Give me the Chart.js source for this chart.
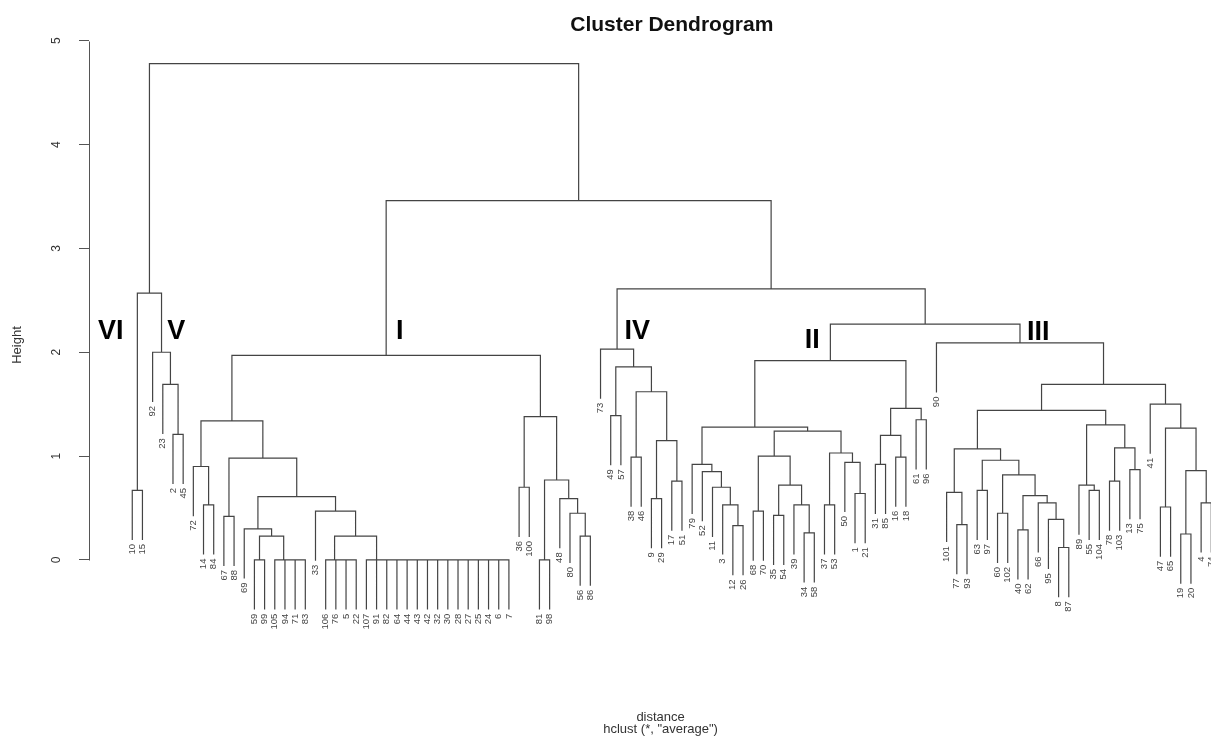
<!DOCTYPE html>
<html>
<head>
<meta charset="utf-8">
<script src="https://cdn.jsdelivr.net/npm/chart.js@4.4.0/dist/chart.umd.min.js"></script>
<style>
  html, body { margin: 0; padding: 0; background: #fff; }
  canvas { display: block; }
</style>
</head>
<body>
<canvas id="dendro" width="1211" height="740"></canvas>
<script>
// merge heights. a node is [height, child, child, ...],
// leaves are observation numbers; more than two children means a tie at that height
var clusterVI = [0.67, 10, 15];
var clusterV = [2.00, 92, [1.69, 23, [1.21, 2, 45]]];
var clusterI = [1.97,
    [1.34,
        [0.90, 72, [0.53, 14, 84]],
        [0.98,
            [0.42, 67, 88],
            [0.61,
                [0.30, 69, [0.23, [0, 59, 99], [0, 105, 94, 71, 83]]],
                [0.47, 33, [0.23, [0, 106, 76, 5, 22],
                    [0, 107, 91, 82, 64, 44, 43, 42, 32, 30, 28, 27, 25, 24, 6, 7]]]]]],
    [1.38,
        [0.70, 36, 100],
        [0.77, [0, 81, 98], [0.59, 48, [0.45, 80, [0.23, 56, 86]]]]]];
var clusterIV = [2.03, 73,
    [1.86, [1.39, 49, 57],
        [1.62, [0.99, 38, 46], [1.15, [0.59, 9, 29], [0.76, 17, 51]]]]];
var clusterII = [1.92,
    [1.28,
        [0.92, 79, [0.85, 52, [0.70, 11, [0.53, 3, [0.33, 12, 26]]]]],
        [1.24,
            [1.00, [0.47, 68, 70], [0.72, [0.43, 35, 54], [0.53, 39, [0.26, 34, 58]]]],
            [1.03, [0.53, 37, 53], [0.94, 50, [0.64, 1, 21]]]]],
    [1.46, [1.20, [0.92, 31, 85], [0.99, 16, 18]], [1.35, 61, 96]]];
var clusterIII = [2.09, 90,
    [1.69,
        [1.44,
            [1.07,
                [0.65, 101, [0.34, 77, 93]],
                [0.96, [0.67, 63, 97],
                    [0.82, [0.45, 60, 102],
                        [0.62, [0.29, 40, 62], [0.55, 66, [0.39, 95, [0.12, 8, 87]]]]]]],
            [1.30, [0.72, 89, [0.67, 55, 104]], [1.08, [0.76, 78, 103], [0.87, 13, 75]]]],
        [1.50, 41, [1.27, [0.51, 47, 65], [0.86, [0.25, 19, 20], [0.55, 4, 74]]]]]];

var tree = [4.78, [2.57, clusterVI, clusterV],
    [3.46, clusterI, [2.61, clusterIV, [2.27, clusterII, clusterIII]]]];

var heightTicks = [0, 1, 2, 3, 4, 5];
var clusterNames = ['VI', 'V', 'I', 'IV', 'II', 'III'];

// where the roman numerals sit, in leaf units / height units
var namePos = [[-2.11, 2.13], [4.32, 2.13], [26.28, 2.13], [49.6, 2.13], [66.8, 2.04], [88.99, 2.12]];

var hang = 0.1 * tree[0];
var segs = [];
var leaves = [];

// ties are drawn as a right leaning chain, like hclust does
function nest(node) {
    if (typeof node === 'number') return node;
    var h = node[0];
    var kids = node.slice(1).map(nest);
    while (kids.length > 2) {
        var b = kids.pop(), a = kids.pop();
        kids.push([h, a, b]);
    }
    return [h, kids[0], kids[1]];
}

function place(node) {
    if (typeof node === 'number') {
        var leaf = { label: String(node), x: leaves.length, y: 0 };
        leaves.push(leaf);
        return { x: leaf.x, leaf: leaf };
    }
    var h = node[0];
    var a = place(node[1]), b = place(node[2]);
    var ya = a.leaf ? (a.leaf.y = h - hang) : a.h;
    var yb = b.leaf ? (b.leaf.y = h - hang) : b.h;
    segs.push({ x: a.x, y: ya }, { x: a.x, y: h }, { x: b.x, y: h }, { x: b.x, y: yb }, { x: null, y: null });
    return { x: (a.x + b.x) / 2, h: h };
}
place(nest(tree));

var textPlugin = {
    id: 'dendroText',
    afterDraw: function (chart) {
        var ctx = chart.ctx;
        var xs = chart.scales.x, ys = chart.scales.y;
        var area = chart.chartArea;
        ctx.save();

        // axis line only over the tick range
        var ax = Math.round(area.left) + 0.5;
        ctx.strokeStyle = '#555';
        ctx.lineWidth = 1;
        ctx.beginPath();
        ctx.moveTo(ax, Math.round(ys.getPixelForValue(heightTicks[0])) + 0.5);
        ctx.lineTo(ax, Math.round(ys.getPixelForValue(heightTicks[heightTicks.length - 1])) + 0.5);
        ctx.stroke();

        ctx.fillStyle = '#333';
        ctx.textAlign = 'center';
        ctx.textBaseline = 'middle';
        ctx.font = '12px "Liberation Sans", Arial, sans-serif';
        heightTicks.forEach(function (v) {
            ctx.save();
            ctx.translate(57, ys.getPixelForValue(v));
            ctx.rotate(-Math.PI / 2);
            ctx.fillText(String(v), 0, 0);
            ctx.restore();
        });

        ctx.font = '13px "Liberation Sans", Arial, sans-serif';
        ctx.save();
        ctx.translate(17, ys.getPixelForValue(2.07));
        ctx.rotate(-Math.PI / 2);
        ctx.fillText('Height', 0, 0);
        ctx.restore();

        // leaf labels hang under each leaf, read bottom to top
        ctx.font = '9.5px "Liberation Sans", Arial, sans-serif';
        ctx.fillStyle = '#444';
        ctx.textAlign = 'right';
        leaves.forEach(function (lf) {
            ctx.save();
            ctx.translate(xs.getPixelForValue(lf.x), ys.getPixelForValue(lf.y) + 4);
            ctx.rotate(-Math.PI / 2);
            ctx.fillText(lf.label, 0, 0);
            ctx.restore();
        });

        ctx.fillStyle = '#000';
        ctx.textAlign = 'center';
        ctx.textBaseline = 'alphabetic';
        ctx.font = 'bold 27px "Liberation Sans", Arial, sans-serif';
        clusterNames.forEach(function (name, i) {
            ctx.fillText(name, xs.getPixelForValue(namePos[i][0]), ys.getPixelForValue(namePos[i][1]));
        });

        ctx.fillStyle = '#111';
        ctx.font = 'bold 21px "Liberation Sans", Arial, sans-serif';
        ctx.fillText('Cluster Dendrogram', xs.getPixelForValue(53), ys.getPixelForValue(5.09));

        ctx.fillStyle = '#333';
        ctx.font = '13px "Liberation Sans", Arial, sans-serif';
        ctx.fillText('distance', xs.getPixelForValue(51.9), ys.getPixelForValue(-1.547));
        ctx.fillText('hclust (*, "average")', xs.getPixelForValue(51.9), ys.getPixelForValue(-1.666));
        ctx.restore();
    }
};

var chart = new Chart(document.getElementById('dendro'), {
    type: 'scatter',
    data: {
        datasets: [{
            data: segs,
            showLine: true,
            borderColor: '#444',
            borderWidth: 1.2,
            pointRadius: 0,
            pointHoverRadius: 0,
            tension: 0,
            spanGaps: false
        }]
    },
    options: {
        responsive: false,
        animation: false,
        devicePixelRatio: 1,
        layout: { padding: { top: 30, right: 0, bottom: 50, left: 0 } },
        plugins: {
            legend: { display: false },
            tooltip: { enabled: false },
            title: { display: false }
        },
        scales: {
            x: {
                type: 'linear',
                display: false,
                min: -4.25,
                max: 105.97
            },
            y: {
                type: 'linear',
                min: -1.252,
                max: 5.103,
                border: { display: false },
                grid: { display: true, drawOnChartArea: false, drawTicks: true, tickLength: 10, color: '#555' },
                ticks: { display: false },
                afterBuildTicks: function (scale) {
                    scale.ticks = heightTicks.map(function (v) { return { value: v }; });
                },
                afterFit: function (scale) {
                    scale.width = 89;
                }
            }
        }
    },
    plugins: [textPlugin]
});
</script>
</body>
</html>
